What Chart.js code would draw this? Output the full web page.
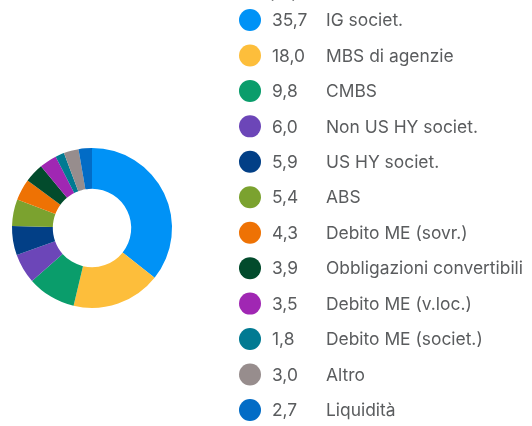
<!DOCTYPE html>
<html>
<head>
<meta charset="utf-8">
<script src="https://cdn.jsdelivr.net/npm/chart.js@4.4.0/dist/chart.umd.min.js"></script>
<style>
  html, body { margin: 0; padding: 0; background: #fff; }
  #wrap { width: 532px; height: 426px; }
</style>
</head>
<body>
<div id="wrap"><canvas id="torta" width="532" height="426"></canvas></div>
<script>
// categorie e valori (%)
const etichette = ['IG societ.', 'MBS di agenzie', 'CMBS', 'Non US HY societ.', 'US HY societ.', 'ABS',
    'Debito ME (sovr.)', 'Obbligazioni convertibili', 'Debito ME (v.loc.)', 'Debito ME (societ.)', 'Altro', 'Liquidità'];
const valori = [35.7, 18.0, 9.8, 6.0, 5.9, 5.4, 4.3, 3.9, 3.5, 1.8, 3.0, 2.7];
const colori = ['#0092f6', '#fdbe3b', '#0a9d6b', '#6c46b8', '#023f86', '#7ba22f',
    '#ee7204', '#024b2c', '#a027b3', '#017a92', '#978d8d', '#026cc6'];
const titolo = '(%)';

// legenda disegnata a mano (valore + etichetta)
const legendaPlugin = {
    id: 'legenda',
    afterDraw(chart) {
        const ctx = chart.ctx;
        ctx.save();
        ctx.font = '17.4px Inter, "DejaVu Sans", sans-serif';
        ctx.fillStyle = '#5a5c5e';
        ctx.textBaseline = 'bottom';
        ctx.fillText(titolo, 268, 2);
        ctx.textBaseline = 'middle';
        const y0 = 20, passo = 35.45;
        etichette.forEach((et, i) => {
            const y = y0 + i * passo;
            ctx.beginPath();
            ctx.arc(250, y, 11, 0, Math.PI * 2);
            ctx.fillStyle = colori[i];
            ctx.fill();
            ctx.fillStyle = '#5a5c5e';
            ctx.fillText(valori[i].toFixed(1).replace('.', ','), 272, y + 1);
            ctx.fillText(et, 326, y + 1);
        });
        ctx.restore();
    }
};

new Chart(document.getElementById('torta'), {
    type: 'doughnut',
    data: {
        labels: etichette,
        datasets: [{
            data: valori,
            backgroundColor: colori,
            borderWidth: 0
        }]
    },
    options: {
        responsive: false,
        animation: false,
        cutout: '49%',
        layout: { padding: { left: 12, right: 360, top: 148, bottom: 118 } },
        plugins: {
            legend: { display: false },
            tooltip: { enabled: false }
        }
    },
    plugins: [legendaPlugin]
});
</script>
</body>
</html>
